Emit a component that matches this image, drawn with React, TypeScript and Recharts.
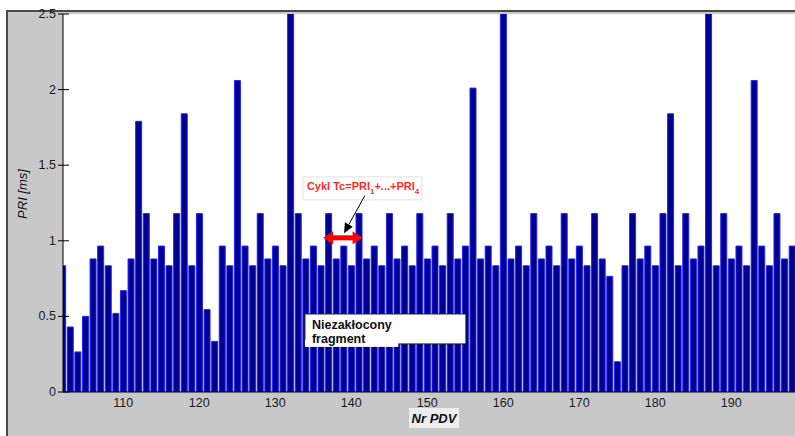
import React from "react";
import {
  BarChart,
  Bar,
  XAxis,
  YAxis,
  CartesianGrid,
  ReferenceArea,
  ReferenceLine,
  Label,
} from "recharts";

const pdvNumbers = [
  102, 103, 104, 105, 106, 107, 108, 109, 110, 111, 112, 113, 114, 115, 116, 117,
  118, 119, 120, 121, 122, 123, 124, 125, 126, 127, 128, 129, 130, 131, 132, 133,
  134, 135, 136, 137, 138, 139, 140, 141, 142, 143, 144, 145, 146, 147, 148, 149,
  150, 151, 152, 153, 154, 155, 156, 157, 158, 159, 160, 161, 162, 163, 164, 165,
  166, 167, 168, 169, 170, 171, 172, 173, 174, 175, 176, 177, 178, 179, 180, 181,
  182, 183, 184, 185, 186, 187, 188, 189, 190, 191, 192, 193, 194, 195, 196, 197,
  198,
];

const priValues = [
  0.835, 0.43, 0.265, 0.5, 0.88, 0.965, 0.835, 0.52, 0.67, 0.88, 1.79, 1.18, 0.88, 0.965, 0.835, 1.18,
  1.84, 0.835, 1.18, 0.545, 0.335, 0.965, 0.835, 2.06, 0.965, 0.835, 1.18, 0.88, 0.965, 0.835, 2.9, 1.18,
  0.88, 0.965, 0.835, 1.18, 0.88, 0.965, 0.835, 1.18, 0.88, 0.965, 0.835, 1.18, 0.88, 0.965, 0.835, 1.18,
  0.88, 0.965, 0.835, 1.18, 0.88, 0.965, 2.01, 0.88, 0.965, 0.835, 2.9, 0.88, 0.965, 0.835, 1.18, 0.88,
  0.965, 0.835, 1.18, 0.88, 0.965, 0.835, 1.18, 0.88, 0.765, 0.2, 0.835, 1.18, 0.88, 0.965, 0.835, 1.18,
  1.84, 0.835, 1.18, 0.88, 0.965, 2.9, 0.835, 1.18, 0.88, 0.965, 0.835, 2.06, 0.965, 0.835, 1.18, 0.88,
  0.965,
];

const xTicks = [110, 120, 130, 140, 150, 160, 170, 180, 190];
const yTicks = [0, 0.5, 1, 1.5, 2, 2.5];
const yTickLabels = ["0", "0.5", "1", "1.5", "2", "2.5"];

const xDomain = [102.07, 198.4];
const yDomain = [0, 2.5];

const cycleLabel = { main: "Cykl Tc=PRI", sub1: "1", mid: "+...+PRI", sub2: "4" };
const fragmentLines = ["Niezakłocony", "fragment"];
const cycleBox = { x1: 133.64, x2: 149.3, y1: 1.271, y2: 1.423 };
const fragmentBox = { x1: 133.91, x2: 155.09, y1: 0.318, y2: 0.516 };
const cycleArrow = [
  { x: 136.3, y: 1.02 },
  { x: 141.5, y: 1.02 },
];
const pointerArrow = [
  { x: 141.8, y: 1.3 },
  { x: 139.05, y: 1.05 },
];

const chartData = pdvNumbers.map((n, i) => ({ pdv: n, pri: priValues[i] }));

const FONT = "'Liberation Sans', Arial, sans-serif";

const YTick = (props: any) => {
  const { x, y, payload } = props;
  const idx = yTicks.indexOf(payload.value);
  return (
    <g>
      <line x1={x + 2} x2={x + 13} y1={y} y2={y} stroke="#000" strokeWidth={1} />
      <text
        x={x}
        y={y}
        textAnchor="end"
        dominantBaseline="central"
        fontFamily={FONT}
        fontSize={12.5}
        fill="#1a1a1a"
      >
        {idx >= 0 ? yTickLabels[idx] : payload.value}
      </text>
    </g>
  );
};

const XTick = (props: any) => {
  const { x, y, payload } = props;
  return (
    <text
      x={x}
      y={y}
      dy="0.71em"
      textAnchor="middle"
      fontFamily={FONT}
      fontSize={12.5}
      fill="#1a1a1a"
    >
      {payload.value}
    </text>
  );
};

const TopTick = (props: any) => {
  const { x, y } = props;
  return <line x1={x} x2={x} y1={y} y2={y + 7} stroke="#000" strokeWidth={1} />;
};

const CycleBoxShape = (props: any) => {
  const { x, y, width, height } = props;
  return (
    <g>
      <rect x={x} y={y} width={width} height={height} fill="#fff" stroke="#e2e2e2" strokeWidth={1} />
      <text x={x + 4} y={y + 13} fontFamily={FONT} fontSize={11} fontWeight="bold" fill="#ff2a2a">
        {cycleLabel.main}
        <tspan fontSize={8} dy={4}>{cycleLabel.sub1}</tspan>
        <tspan dy={-4}>{cycleLabel.mid}</tspan>
        <tspan fontSize={8} dy={4}>{cycleLabel.sub2}</tspan>
      </text>
    </g>
  );
};

const FragmentBoxShape = (props: any) => {
  const { x, y, width, height } = props;
  return (
    <g>
      <rect x={x} y={y} width={width} height={height} fill="#fff" stroke="#222" strokeWidth={1} />
      <rect x={x} y={y + height - 4} width={width * 0.58} height={7} fill="#fff" />
      <text x={x + 7} y={y + 15} fontFamily={FONT} fontSize={12.5} fontWeight="bold" fill="#111">
        {fragmentLines[0]}
      </text>
      <text x={x + 7} y={y + 29.5} fontFamily={FONT} fontSize={12.5} fontWeight="bold" fill="#111">
        {fragmentLines[1]}
      </text>
    </g>
  );
};

const DoubleArrowShape = (props: any) => {
  const { x1, y1, x2 } = props;
  const yy = y1;
  const head = 10;
  const half = 6.5;
  return (
    <g>
      <line x1={x1 + head - 1} x2={x2 - head + 1} y1={yy} y2={yy} stroke="#ff0000" strokeWidth={5} />
      <polygon points={`${x1},${yy} ${x1 + head},${yy - half} ${x1 + head},${yy + half}`} fill="#ff0000" />
      <polygon points={`${x2},${yy} ${x2 - head},${yy - half} ${x2 - head},${yy + half}`} fill="#ff0000" />
    </g>
  );
};

const PointerShape = (props: any) => {
  const { x1, y1, x2, y2 } = props;
  const dx = x2 - x1;
  const dy = y2 - y1;
  const len = Math.sqrt(dx * dx + dy * dy) || 1;
  const ux = dx / len;
  const uy = dy / len;
  const hl = 10;
  const hw = 4.5;
  const bx = x2 - ux * hl;
  const by = y2 - uy * hl;
  const px = -uy;
  const py = ux;
  return (
    <g>
      <line x1={x1} y1={y1} x2={bx} y2={by} stroke="#000" strokeWidth={1} />
      <polygon
        points={`${x2},${y2} ${bx + px * hw},${by + py * hw} ${bx - px * hw},${by - py * hw}`}
        fill="#000"
      />
    </g>
  );
};

export default function App() {
  return (
    <div style={{ position: "absolute", left: 0, top: 0, width: 795, height: 436, background: "#fff", overflow: "hidden" }}>
      <div
        style={{
          position: "absolute",
          left: 6,
          top: 10,
          width: 795,
          height: 430,
          background: "#c8c8c8",
          borderLeft: "2px solid #4a4a4a",
          borderTop: "2px solid #4a4a4a",
        }}
      />
      <div style={{ position: "absolute", left: 0, top: 0 }}>
        <BarChart
          width={795}
          height={436}
          data={chartData}
          margin={{ top: 14, right: 0, bottom: 0, left: 0 }}
          barCategoryGap={0}
        >
          <CartesianGrid horizontal={false} vertical={false} fill="#ffffff" />
          <XAxis
            dataKey="pdv"
            type="number"
            domain={xDomain}
            allowDataOverflow
            ticks={xTicks}
            height={44}
            tickSize={0}
            tickMargin={6}
            tick={<XTick />}
            axisLine={{ stroke: "#000", strokeWidth: 1 }}
            interval={0}
          >
            <Label
              content={() => {
                const cx = 434;
                const cy = 418;
                return (
                  <g>
                    <rect x={cx - 25} y={cy - 10} width={50} height={20} fill="#ededed" />
                    <text
                      x={cx}
                      y={cy + 5}
                      textAnchor="middle"
                      fontFamily={FONT}
                      fontSize={13}
                      fontWeight="bold"
                      fontStyle="italic"
                      fill="#111"
                    >
                      Nr PDV
                    </text>
                  </g>
                );
              }}
            />
          </XAxis>
          <XAxis
            xAxisId="top"
            dataKey="pdv"
            type="number"
            orientation="top"
            domain={xDomain}
            allowDataOverflow
            ticks={xTicks}
            height={0}
            tickSize={0}
            tickMargin={0}
            tick={<TopTick />}
            axisLine={{ stroke: "#000", strokeWidth: 1.5 }}
            interval={0}
          />
          <YAxis
            type="number"
            domain={yDomain}
            allowDataOverflow
            ticks={yTicks}
            width={63}
            tickSize={0}
            tickMargin={7}
            tick={<YTick />}
            axisLine={{ stroke: "#000", strokeWidth: 1 }}
            interval={0}
          >
            <Label
              content={() => (
                <text
                  x={27}
                  y={194}
                  transform="rotate(-90 27 194)"
                  textAnchor="middle"
                  fontFamily={FONT}
                  fontSize={13}
                  fontStyle="italic"
                  fill="#111"
                >
                  PRI [ms]
                </text>
              )}
            />
          </YAxis>
          <Bar
            dataKey="pri"
            fill="#00008f"
            stroke="#2424ff"
            strokeWidth={1}
            barSize={6}
            isAnimationActive={false}
          />
          <ReferenceArea
            x1={cycleBox.x1}
            x2={cycleBox.x2}
            y1={cycleBox.y1}
            y2={cycleBox.y2}
            shape={<CycleBoxShape />}
            zIndex={1600}
          />
          <ReferenceArea
            x1={fragmentBox.x1}
            x2={fragmentBox.x2}
            y1={fragmentBox.y1}
            y2={fragmentBox.y2}
            shape={<FragmentBoxShape />}
            zIndex={1600}
          />
          <ReferenceLine segment={cycleArrow} shape={<DoubleArrowShape />} zIndex={1700} />
          <ReferenceLine segment={pointerArrow} shape={<PointerShape />} zIndex={1800} />
        </BarChart>
      </div>
    </div>
  );
}
